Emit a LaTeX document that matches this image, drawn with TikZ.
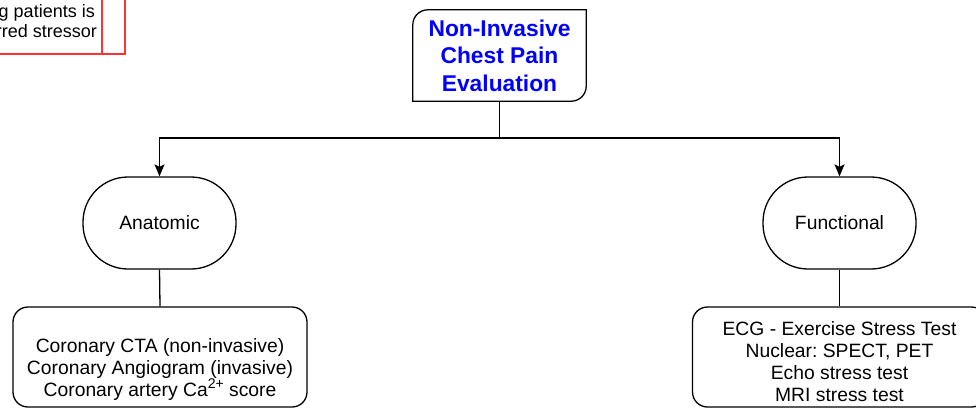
\documentclass[tikz,border=0pt]{standalone}
\usepackage{fontspec}
\setmainfont{Liberation Sans}
\usetikzlibrary{arrows.meta,calc}
\definecolor{redline}{HTML}{FF3333}
\definecolor{titleblue}{HTML}{0000FF}
\frenchspacing
\begin{document}
\begin{tikzpicture}[x=1pt,y=1pt,
  line/.style={line width=1.3pt, draw=black},
  arr/.style={line, -{Stealth[length=12pt,width=10pt,inset=2.5pt]}},
  oval/.style={line, rounded corners=45pt, minimum width=153pt, minimum height=92pt, inner sep=0pt, font=\fontsize{19.3}{22}\selectfont},
  listbox/.style={line, rounded corners=15pt, minimum width=294pt, minimum height=100pt, inner sep=0pt},
  listtxt/.style={align=center, font=\fontsize{19.3}{22}\selectfont, inner sep=0pt},
  redtxt/.style={anchor=base east, inner sep=0pt, font=\fontsize{18}{21}\selectfont},
  titletxt/.style={align=center, inner sep=0pt, minimum width=173pt, minimum height=91pt, text=titleblue, font=\fontsize{22.8}{27.5}\selectfont\bfseries}
]
\useasboundingbox (0,0) rectangle (976,-410);
\clip (0,0) rectangle (976,-410);

% red box (cut off at the top-left)
\coordinate (rbl) at (-10,-54);
\coordinate (rbr) at (125,-54);
\coordinate (rtr) at (125,10);
\coordinate (rdt) at (102,10);
\coordinate (rdb) at (102,-54);
\draw[redline, line width=2pt] (rbl) -- (rbr) -- (rtr);
\draw[redline, line width=2pt] (rdt) -- (rdb);
\node[redtxt] (r1) at (95,-17) {g patients is};
\node[redtxt] (r2) at (97,-37) {rred stressor};

% title
\node[titletxt] (title) at (499.5,-55.5) {Non-Invasive\\Chest Pain\\Evaluation};
\draw[line] (title.north east) -- ([yshift=15pt]title.south east)
  arc[start angle=0,end angle=-90,radius=15pt] -- (title.south west)
  -- ([yshift=-15pt]title.north west)
  arc[start angle=180,end angle=90,radius=15pt] -- cycle;

% category ovals
\node[oval, draw] (anat) at (159.5,-223) {Anatomic};
\node[oval, draw] (func) at (839.5,-223) {Functional};

% bus
\coordinate (bus) at (499.5,-138);
\draw[line] (title.south) -- (bus);
\draw[arr] (bus) -| (anat.north);
\draw[arr] (bus) -| (func.north);

% list boxes
\node[listbox, draw] (anatbox) at (160,-357) {};
\node[listbox, draw] (funcbox) at (839.5,-357) {};
\node[listtxt] (anattxt) at (160,-370) {Coronary CTA (non-invasive)\\Coronary Angiogram (invasive)\\Coronary artery Ca\raisebox{0.42em}{\fontsize{14}{14}\selectfont 2+} score};
\node[listtxt] (functxt) at (839.5,-361.5) {ECG - Exercise Stress Test\\Nuclear: SPECT, PET\\Echo stress test\\MRI stress test};

\draw[line] (anat.south) -- (anatbox.north);
\draw[line] (func.south) -- (funcbox.north);
\end{tikzpicture}
\end{document}
